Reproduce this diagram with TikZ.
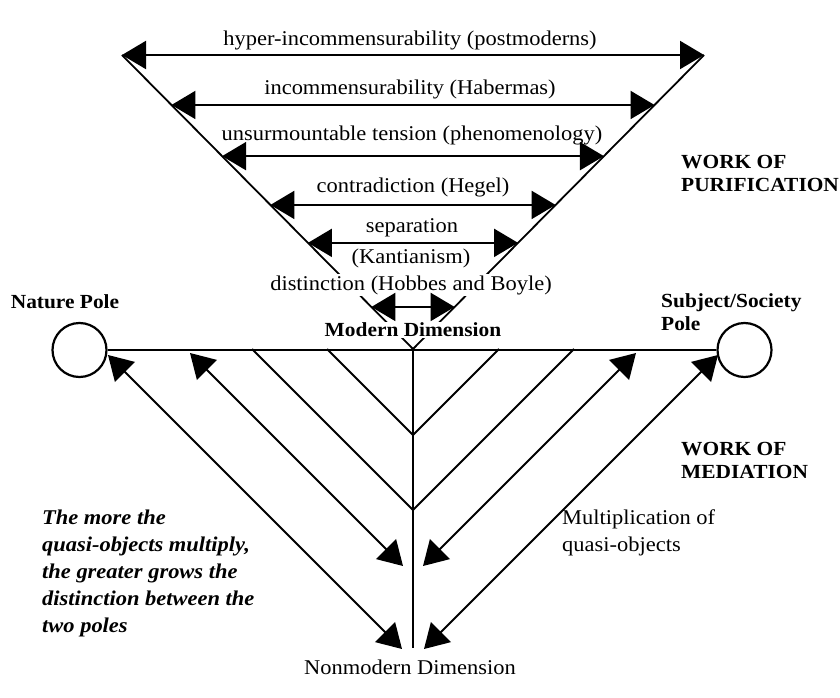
\documentclass[tikz,border=0pt]{standalone}
\usepackage{fontspec}
\setmainfont{Liberation Serif}[FakeStretch=1.07]
\usetikzlibrary{arrows.meta,calc}
\begin{document}
\begin{tikzpicture}[x=1pt,y=-1pt,
  >={Triangle[length=24pt,width=28pt]},
  lab/.style={font=\fontsize{21}{25}\selectfont, inner sep=1pt},
  blab/.style={font=\fontsize{20}{23}\selectfont\bfseries, inner sep=1pt},
  ilab/.style={font=\fontsize{21}{27}\selectfont\bfseries\itshape, inner sep=0pt},
  mlab/.style={font=\fontsize{21}{27}\selectfont, inner sep=0pt},
  vline/.style={line width=1.8pt},
  hline/.style={line width=2.4pt},
  purif/.style={line width=2.1pt, <->},
  medi/.style={line width=1.8pt, <->},
  pole/.style={circle, draw, line width=2.2pt, fill=white, minimum size=54pt, inner sep=0pt}]
\fill[white] (0,0) rectangle (840,698);
\useasboundingbox (0,0) rectangle (840,698);

% apex of the purification V and its two upper corners
\coordinate (apex) at (413,349);
\coordinate (tl) at (122,55);
\coordinate (tr) at (704,55);
\coordinate (r2l) at ($(apex)!0.830!(tl)$);
\coordinate (r2r) at ($(apex)!0.830!(tr)$);
\coordinate (r3l) at ($(apex)!0.656!(tl)$);
\coordinate (r3r) at ($(apex)!0.656!(tr)$);
\coordinate (r4l) at ($(apex)!0.490!(tl)$);
\coordinate (r4r) at ($(apex)!0.490!(tr)$);
\coordinate (r5l) at ($(apex)!0.361!(tl)$);
\coordinate (r5r) at ($(apex)!0.361!(tr)$);
\coordinate (r6l) at ($(apex)!0.143!(tl)$);
\coordinate (r6r) at ($(apex)!0.143!(tr)$);

\draw[vline] (tl) -- (apex);
\draw[vline] (tr) -- (apex);

% mediation: branches hanging from the pole line
\coordinate (bottom) at (413,648);
\coordinate (d1) at (327,349);
\coordinate (d2) at (499,349);
\coordinate (dj) at (413,435);
\coordinate (c1) at (252,349);
\coordinate (c2) at (574,349);
\coordinate (cj) at (413,510);
\draw[vline] (apex) -- (bottom);
\draw[vline] (d1) -- (dj);
\draw[vline] (d2) -- (dj);
\draw[vline] (c1) -- (cj);
\draw[vline] (c2) -- (cj);

\node[pole] (np) at (79.5,350) {};
\node[pole] (sp) at (744.5,350) {};
\draw[hline] (np.east) -- (sp.west);

% labels that interrupt the V
\node[lab, fill=white] (l7) at (411,285) {distinction (Hobbes and Boyle)};
\node[blab, fill=white] (md) at (413,330) {Modern Dimension};

% purification arrows
\draw[purif] (tl) -- (tr);
\draw[purif] (r2l) -- (r2r);
\draw[purif] (r3l) -- (r3r);
\draw[purif] (r4l) -- (r4r);
\draw[purif] (r5l) -- (r5r);
\draw[purif] (r6l) -- (r6r);

% mediation arrows
\coordinate (a1t) at (108,355);
\coordinate (a1b) at (402,649);
\coordinate (a2t) at (718,355);
\coordinate (a2b) at (424,649);
\coordinate (b1t) at (190,353);
\coordinate (b1b) at (403,566);
\coordinate (b2t) at (636,353);
\coordinate (b2b) at (423,566);
\draw[medi] (a1t) -- (a1b);
\draw[medi] (a2t) -- (a2b);
\draw[medi] (b1t) -- (b1b);
\draw[medi] (b2t) -- (b2b);

% texts
\node[lab] (l1) at (410,40) {hyper-incommensurability (postmoderns)};
\node[lab] (l2) at (410,89) {incommensurability (Habermas)};
\node[lab] (l3) at (412,135) {unsurmountable tension (phenomenology)};
\node[lab] (l4) at (413,187) {contradiction (Hegel)};
\node[lab] (l5) at (412,228) {separation};
\node[lab] (l6) at (411,258) {(Kantianism)};
\node[lab] (nmd) at (410,667) {Nonmodern Dimension};
\node[blab] (npl) at (65,302) {Nature Pole};
\node[blab, anchor=west, align=left] (spl) at (660,312) {Subject/Society\\Pole};
\node[blab, anchor=west, align=left] (wp) at (680,173) {WORK OF\\PURIFICATION};
\node[blab, anchor=west, align=left] (wm) at (680,460) {WORK OF\\MEDIATION};
\node[ilab, anchor=north west, align=left] (q) at (42,510) {The more the\\quasi-objects multiply,\\the greater grows the\\distinction between the\\two poles};
\node[mlab, anchor=north west, align=left] (mq) at (562,510) {Multiplication of\\quasi-objects};
\end{tikzpicture}
\end{document}
